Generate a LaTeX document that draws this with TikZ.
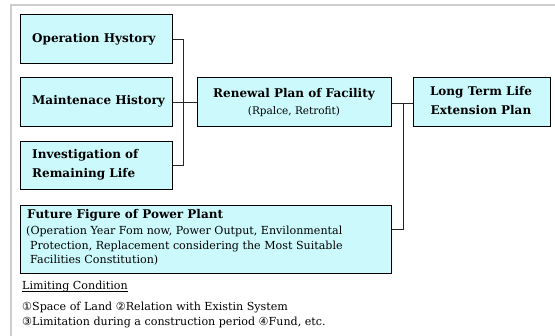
\documentclass[tikz,border=0pt]{standalone}
\usepackage{fontspec}
\setmainfont{DejaVu Serif}
\newfontfamily\circfont{DejaVu Sans}
\begin{document}
\definecolor{boxfill}{RGB}{204,250,252}
\definecolor{framegray}{RGB}{205,205,205}
\begin{tikzpicture}[x=1pt,y=-1pt,
  card/.style={draw=black,fill=boxfill,line width=1.4pt,inner sep=0pt},
  thincard/.style={card,line width=1.1pt},
  head/.style={font=\fontsize{12}{19}\selectfont\bfseries,align=center,inner sep=0pt},
  wire/.style={draw=black!85,line width=0.9pt},
  note/.style={font=\fontsize{11.1}{14.5}\selectfont,anchor=base west,inner sep=0pt}]
\useasboundingbox (0,0) rectangle (555,336);
% outer frame
\draw[framegray,line width=1.6pt] (11,336) -- (11,5) -- (555,5);
% boxes
\node[thincard,minimum width=152,minimum height=49,anchor=north west] (op) at (20,14) {};
\node[card,minimum width=152,minimum height=49,anchor=north west] (mh) at (20,77) {};
\node[thincard,minimum width=152,minimum height=48,anchor=north west] (inv) at (20,141) {};
\node[card,minimum width=194,minimum height=49,anchor=north west] (rp) at (197,77) {};
\node[card,minimum width=137,minimum height=49,anchor=north west] (lt) at (413,77) {};
\node[card,minimum width=371,minimum height=68,anchor=north west] (ff) at (20,205) {};
% texts
\node[head,anchor=west] at (32,39) {Operation Hystory};
\node[head,anchor=west] at (32,101) {Maintenace History};
\node[head,anchor=west,align=left] at (32,165) {Investigation of\\Remaining Life};
\node[head] at (294,94) {Renewal Plan of Facility};
\node[font=\fontsize{10.5}{13}\selectfont,inner sep=0pt] at (294,112) {(Rpalce, Retrofit)};
\node[head] at (481,101) {Long Term Life\\Extension Plan};
\node[head,anchor=west] at (27,215) {Future Figure of Power Plant};
\node[anchor=north west,inner sep=0pt,align=left,font=\fontsize{11.1}{14.5}\selectfont] at (26,226)
  {(Operation Year Fom now, Power Output, Envilonmental\\
   \hspace*{4pt}Protection, Replacement considering the Most Suitable\\
   \hspace*{4pt}Facilities Constitution)};
\node[note] (lc) at (22,290) {Limiting Condition};
\draw[line width=0.6pt] ([yshift=-1.8pt]lc.base west) -- ([yshift=-1.8pt]lc.base east);
\node[note] (l1) at (22,311) {{\circfont ①}Space of Land {\circfont ②}Relation with Existin System};
\node[note] (l2) at (22,326) {{\circfont ③}Limitation during a construction period {\circfont ④}Fund, etc.};
% connectors
\coordinate (j1) at (183,39);
\coordinate (j2) at (183,165);
\coordinate (k1) at (403,103);
\coordinate (k2) at (403,229);
\draw[wire] (op.east |- j1) -- (j1) -- (j2) -- (inv.east |- j2);
\draw[wire] (mh.east) -- (rp.west);
\draw[wire] (rp.east |- k1) -- (lt.west |- k1);
\draw[wire] (k1) -- (k2) -- (ff.east |- k2);
\end{tikzpicture}
\end{document}
